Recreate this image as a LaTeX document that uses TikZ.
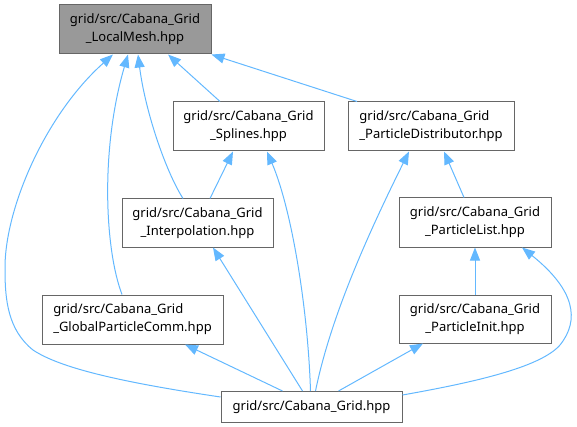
\documentclass[tikz,border=0pt]{standalone}
\usepackage{fontspec}
\setmainfont{Noto Sans}
\usetikzlibrary{arrows.meta}
\definecolor{edgeblue}{HTML}{63B8FF}
\definecolor{boxborder}{HTML}{666666}
\definecolor{mainfill}{HTML}{999999}
\begin{document}
\begin{tikzpicture}[x=1pt,y=-1pt,
  filebox/.style={draw=boxborder, line width=1pt, fill=white, inner sep=0pt,
    font=\fontsize{13pt}{18pt}\selectfont, text=black},
  mainbox/.style={filebox, fill=mainfill},
  dep/.style={draw=edgeblue, line width=1pt, -{Triangle[length=13pt,width=10pt]}}]
\useasboundingbox (0,0) rectangle (577,427);
\node[mainbox, minimum width=152pt, minimum height=49pt, align=center] (lm) at (135,29.5) {grid/src/Cabana\_Grid\\\_LocalMesh.hpp};
\node[filebox, minimum width=151pt, minimum height=49pt, align=center] (spl) at (248.5,126.5) {grid/src/Cabana\_Grid\\\_Splines.hpp};
\node[filebox, minimum width=166pt, minimum height=49pt, align=left] (pd) at (431,126.5) {grid/src/Cabana\_Grid\\\_ParticleDistributor.hpp};
\node[filebox, minimum width=151pt, minimum height=48pt, align=center] (interp) at (197.5,223) {grid/src/Cabana\_Grid\\\_Interpolation.hpp};
\node[filebox, minimum width=152pt, minimum height=49pt, align=center] (pl) at (475,222.5) {grid/src/Cabana\_Grid\\\_ParticleList.hpp};
\node[filebox, minimum width=181pt, minimum height=49pt, align=left] (gpc) at (132.5,319.5) {grid/src/Cabana\_Grid\\\_GlobalParticleComm.hpp};
\node[filebox, minimum width=152pt, minimum height=48pt, align=center] (pi) at (475,319) {grid/src/Cabana\_Grid\\\_ParticleInit.hpp};
\node[filebox, minimum width=181pt, minimum height=31pt, align=center] (cg) at (311.5,407) {grid/src/Cabana\_Grid.hpp};

% edges into LocalMesh
\draw[dep] ([yshift=10pt]cg.west) .. controls (120,382) and (60,368) .. (33,350)
  .. controls (8,330) and (5,300) .. (5,270)
  .. controls (4,210) and (45,115) .. ([xshift=-22pt]lm.south);
\draw[dep] ([xshift=-10.5pt]gpc.north) .. controls (105,250) and (100,150) .. ([xshift=-7pt]lm.south);
\draw[dep] ([xshift=-14.5pt]interp.north) .. controls (165,170) and (145,110) .. ([xshift=3pt]lm.south);
\draw[dep] ([xshift=-28.5pt]spl.north) -- ([xshift=33pt]lm.south);
\draw[dep] ([xshift=-74pt]pd.north) -- (lm.south east);
% edges into Splines
\draw[dep] ([xshift=12.5pt]interp.north) -- ([xshift=-15.5pt]spl.south);
\draw[dep] ([xshift=-1pt]cg.north) .. controls (308,310) and (292,210) .. ([xshift=18.5pt]spl.south);
% edges into ParticleDistributor
\draw[dep] ([xshift=4pt]cg.north) .. controls (330,320) and (365,240) .. ([xshift=-22pt]pd.south);
\draw[dep] ([xshift=-11pt]pl.north) -- ([xshift=13pt]pd.south);
% edges into ParticleList
\draw[dep] (pi.north) -- (pl.south);
\draw[dep] ([yshift=12pt]cg.east) .. controls (470,383) and (540,368) .. (560,345)
  .. controls (580,320) and (575,290) .. ([xshift=47pt]pl.south);
% other edges
\draw[dep] ([xshift=-9pt]cg.north) -- ([xshift=15.5pt]interp.south);
\draw[dep] ([xshift=-29pt]cg.north) -- ([xshift=52.5pt]gpc.south);
\draw[dep] ([xshift=27pt]cg.north) -- ([xshift=-52pt]pi.south);
\end{tikzpicture}
\end{document}
